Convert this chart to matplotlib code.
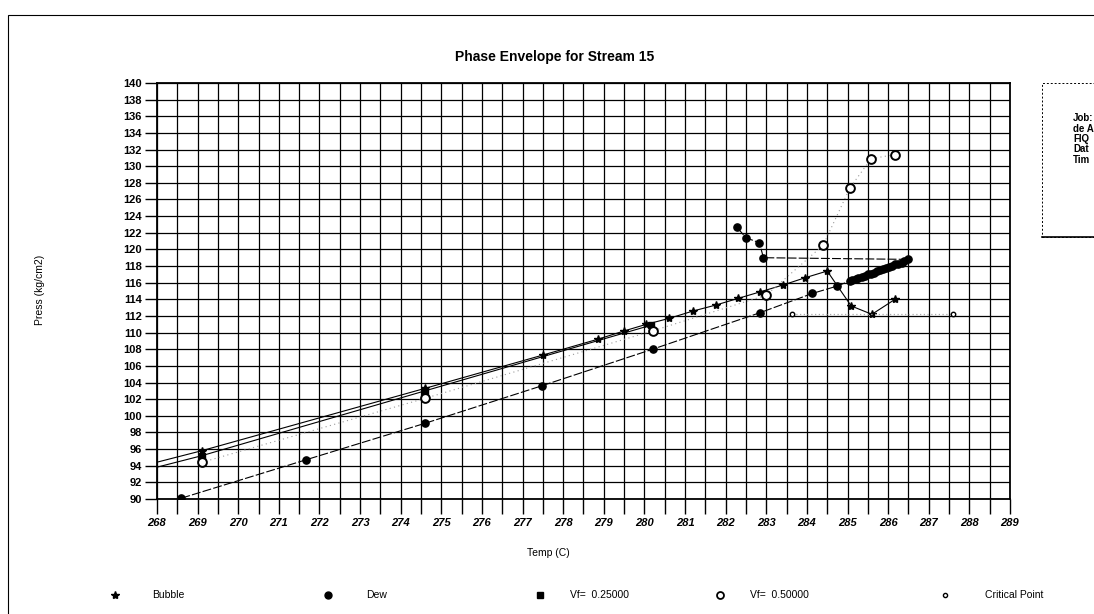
import numpy as np
import matplotlib
matplotlib.use("Agg")
import matplotlib.pyplot as plt
from matplotlib.lines import Line2D
from matplotlib.patches import Rectangle

plt.rcParams['font.family'] = ['Liberation Sans', 'DejaVu Sans']

# bubble curve (stars)
bubble_t = [267.9, 269.1, 274.6, 277.5, 278.85, 279.5, 280.05, 280.6, 281.2,
            281.75, 282.3, 282.85, 283.4, 283.96, 284.5, 285.09, 285.6, 286.17]
bubble_p = [94.3, 95.8, 103.3, 107.3, 109.2, 110.2, 111.0, 111.7, 112.6,
            113.3, 114.1, 114.9, 115.7, 116.6, 117.4, 113.2, 112.2, 114.0]

# dew curve (filled circles)
dew_t = [268.6, 271.66, 274.6, 277.47, 280.2, 282.85, 284.13, 284.75,
         285.05, 285.12, 285.2, 285.27, 285.35, 285.42, 285.5, 285.58, 285.65, 285.73,
         285.8, 285.88, 285.95, 286.03, 286.1, 286.18, 286.25, 286.33, 286.4, 286.5,
         282.93, 282.83, 282.5, 282.27]
dew_p = [90.1, 94.7, 99.1, 103.6, 108.0, 112.4, 114.7, 115.6,
         116.2, 116.3, 116.5, 116.6, 116.7, 116.8, 117.0, 117.1, 117.2, 117.4,
         117.5, 117.6, 117.8, 117.9, 118.0, 118.2, 118.3, 118.4, 118.6, 118.8,
         119.0, 120.8, 121.4, 122.7]

# vapour fraction 0.25 (squares)
vf25_t = [267.9, 269.1, 274.6, 280.17]
vf25_p = [93.7, 95.2, 103.0, 110.9]

# vapour fraction 0.5 (open circles)
vf50_t = [269.1, 274.6, 280.2, 283.0, 284.4, 285.06, 285.58, 286.17]
vf50_p = [94.4, 102.1, 110.2, 114.5, 120.5, 127.4, 130.9, 131.4]

# critical points
crit_t = [283.64, 287.6]
crit_p = [112.2, 112.2]

x_ticks = list(range(268, 290))
y_ticks = list(range(90, 141, 2))

W, H = 1094, 614
fig = plt.figure(figsize=(W / 100, H / 100), dpi=100)
fig.patch.set_facecolor('white')


def fx(px):
    return px / W


def fy(py):
    return 1 - py / H


ax = fig.add_axes([fx(157), fy(499), fx(1010 - 157), (499 - 83) / H])

ax.plot(bubble_t, bubble_p, color='black', lw=0.8, marker='*', ms=6,
        mfc='black', mec='black', clip_on=True)
ax.plot(vf25_t, vf25_p, color='black', lw=0.8, marker='s', ms=4.5,
        mfc='black', mec='black')
ax.plot(dew_t, dew_p, color='black', lw=0.8, ls=(0, (8, 2)), marker='o', ms=5.2,
        mfc='black', mec='black')
ax.plot(vf50_t, vf50_p, color='#999999', lw=0.8, ls=(0, (1, 3)), marker='o', ms=6.3,
        mfc='white', mec='black', mew=1.4)
ax.plot(crit_t, crit_p, color='#aaaaaa', lw=0.9, ls=(0, (1, 2)), marker='o', ms=3.2,
        mfc='white', mec='black', mew=1.0)

ax.set_xlim(268, 289)
ax.set_ylim(90, 140)
ax.set_xticks(x_ticks)
ax.set_xticks(np.arange(268.5, 289, 1.0), minor=True)
ax.set_yticks(y_ticks)
ax.set_xticklabels([str(t) for t in x_ticks], fontsize=8, fontweight='bold',
                   fontstyle='italic')
ax.set_yticklabels([str(t) for t in y_ticks], fontsize=8, fontweight='bold')
ax.tick_params(axis='x', which='both', length=11, width=1.0, color='black',
               direction='out', pad=3)
ax.tick_params(axis='y', which='major', length=9, width=1.0, color='black',
               direction='out', pad=2)
ax.grid(True, which='both', axis='x', color='black', lw=0.9)
ax.grid(True, which='major', axis='y', color='black', lw=0.9)
ax.set_axisbelow(True)
for s in ax.spines.values():
    s.set_linewidth(1.3)
    s.set_color('black')

fig.text(fx(555), fy(57), 'Phase Envelope for Stream 15', ha='center', va='center',
         fontsize=10, fontweight='bold')
fig.text(fx(40), fy(290), 'Press (kg/cm2)', ha='center', va='center',
         rotation=90, fontsize=7.5)
fig.text(fx(548), fy(553), 'Temp (C)', ha='center', va='center', fontsize=7.5)

# legend row
leg_items = [
    (115, 152, 'Bubble', dict(marker='*', ms=6, mfc='black', mec='black')),
    (328, 366, 'Dew', dict(marker='o', ms=5, mfc='black', mec='black')),
    (540, 570, 'Vf=  0.25000', dict(marker='s', ms=4, mfc='black', mec='black')),
    (720, 750, 'Vf=  0.50000', dict(marker='o', ms=5, mfc='white', mec='black', mew=1.3)),
    (945, 985, 'Critical Point', dict(marker='o', ms=3, mfc='white', mec='black', mew=1.0)),
]
for mx, tx, label, style in leg_items:
    fig.add_artist(Line2D([fx(mx)], [fy(595)], transform=fig.transFigure,
                          ls='none', **style))
    fig.text(fx(tx), fy(595), label, ha='left', va='center', fontsize=7.5)

# info box at the right, cut off by the page edge
fig.add_artist(Rectangle((fx(1042), fy(237)), fx(80), (237 - 83) / H,
                         transform=fig.transFigure, fill=False, ec='black',
                         lw=0.7, ls=(0, (2, 2))))
fig.add_artist(Line2D([fx(1042), fx(1094)], [fy(237), fy(237)],
                      transform=fig.transFigure, color='black', lw=1.2))
for i, line in enumerate(['Job:', 'de A', 'FIQ', 'Dat', 'Tim']):
    fig.text(fx(1073), fy(118 + i * 10.5), line, ha='left', va='center',
             fontsize=7, fontweight='bold')

# page frame from the scan
fig.add_artist(Rectangle((fx(8), fy(640)), fx(1120), (640 - 15) / H,
                         transform=fig.transFigure, fill=False, ec='black', lw=0.8))

fig.savefig('out.png', dpi=100)
